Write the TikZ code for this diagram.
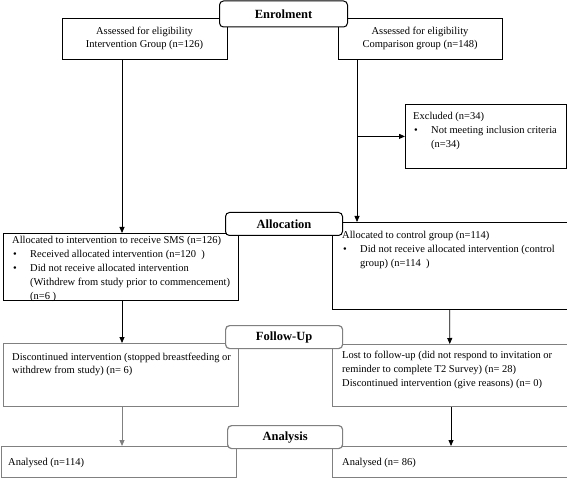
\documentclass[tikz,border=0pt]{standalone}
\usepackage{fontspec}
\setmainfont{Liberation Serif}
\usetikzlibrary{arrows.meta}
\definecolor{lg}{gray}{0.5}
\tikzset{
  box/.style={draw=black, line width=0.8pt, anchor=north west, inner sep=0pt},
  gbox/.style={box, draw=lg, line width=1pt},
  stage/.style={draw=black, line width=1pt, rounded corners=4pt, fill=white,
    font=\fontsize{12.5}{14}\selectfont\bfseries, anchor=north west, inner sep=0pt},
  gstage/.style={stage, draw=lg, line width=1.2pt},
  txt/.style={anchor=north west, align=left, inner sep=0pt, font=\fontsize{10.5}{13.8}\selectfont},
  ctxt/.style={anchor=center, align=center, inner sep=0pt, font=\fontsize{10.5}{13.5}\selectfont},
  arr/.style={-{Triangle[length=6pt,width=5pt]}, line width=0.8pt},
  garr/.style={arr, draw=lg, line width=1pt}
}
\newcommand{\bul}{\makebox[18pt][l]{\hspace{1pt}\textbullet}}
\newcommand{\ind}{\hspace*{18pt}}
\begin{document}
\begin{tikzpicture}[x=1pt,y=-1pt]
\useasboundingbox (0,0) rectangle (567,478);
% boxes
\node[box, minimum width=165pt, minimum height=41pt] (assI) at (62,18) {};
\node[box, minimum width=164pt, minimum height=41pt] (assC) at (338,18) {};
\node[box, minimum width=161pt, minimum height=64pt] (excl) at (405,104) {};
\node[box, minimum width=235pt, minimum height=67pt] (allL) at (3,233) {};
\node[box, minimum width=234.5pt, minimum height=87pt] (allR) at (332,222) {};
\node[gbox, minimum width=235pt, minimum height=63pt] (fuL) at (3,343) {};
\node[gbox, minimum width=234.5pt, minimum height=62pt] (fuR) at (332,344) {};
\node[gbox, minimum width=235pt, minimum height=31pt] (anL) at (0.5,446) {};
\node[gbox, minimum width=234.5pt, minimum height=31pt] (anR) at (332,446) {};
% texts
\node[ctxt] (tAssI) at (144.5,38.5) {Assessed for eligibility\\Intervention Group (n=126)};
\node[ctxt] (tAssC) at (420,38.5) {Assessed for eligibility\\Comparison group (n=148)};
\node[txt] (tExcl) at (413,112) {Excluded (n=34)\\\bul Not meeting inclusion criteria\\\ind(n=34)};
\node[txt] (tAllL) at (12,236.5) {Allocated to intervention to receive SMS (n=126)\\\bul Received allocated intervention (n=120\ \ )\\\bul Did not receive allocated intervention\\\ind(Withdrew from study prior to commencement)\\\ind(n=6 )};
\node[txt] (tAllR) at (342,231.5) {Allocated to control group (n=114)\\\bul Did not receive allocated intervention (control\\\ind group) (n=114\ \ )};
\node[txt] (tFuL) at (12,352.5) {Discontinued intervention (stopped breastfeeding or\\withdrew from study) (n= 6)};
\node[txt] (tFuR) at (342,351) {Lost to follow-up (did not respond to invitation or\\reminder to complete T2 Survey) (n= 28)\\Discontinued intervention (give reasons) (n= 0)};
\node[txt, anchor=base west] (tAnL) at (8,465) {Analysed (n=114)};
\node[txt, anchor=base west] (tAnR) at (342,465) {Analysed (n= 86)};
% stage labels
\node[stage, minimum width=128pt, minimum height=26pt] (enrol) at (219,0.5) {Enrolment};
\node[stage, minimum width=117pt, minimum height=23pt] (alloc) at (225,212) {Allocation};
\node[gstage, minimum width=117pt, minimum height=23pt] (follow) at (225,325) {Follow-Up};
\node[gstage, minimum width=115pt, minimum height=23pt] (anal) at (227,425) {Analysis};
% connectors
\coordinate (xl) at (122,0);
\coordinate (xr) at (357,0);
\coordinate (xr2) at (451,0);
\draw[arr] (assI.south -| xl) -- (allL.north -| xl);
\draw[arr] (assC.south -| xr) -- (allR.north -| xr);
\draw[arr] (excl.west -| xr) -- (excl.west);
\draw[arr] (allL.south -| xl) -- (fuL.north -| xl);
\draw[arr] (allR.south) -- (fuR.north);
\draw[garr] (fuL.south -| xl) -- (anL.north -| xl);
\draw[arr] (fuR.south -| xr2) -- (anR.north -| xr2);
\end{tikzpicture}
\end{document}
